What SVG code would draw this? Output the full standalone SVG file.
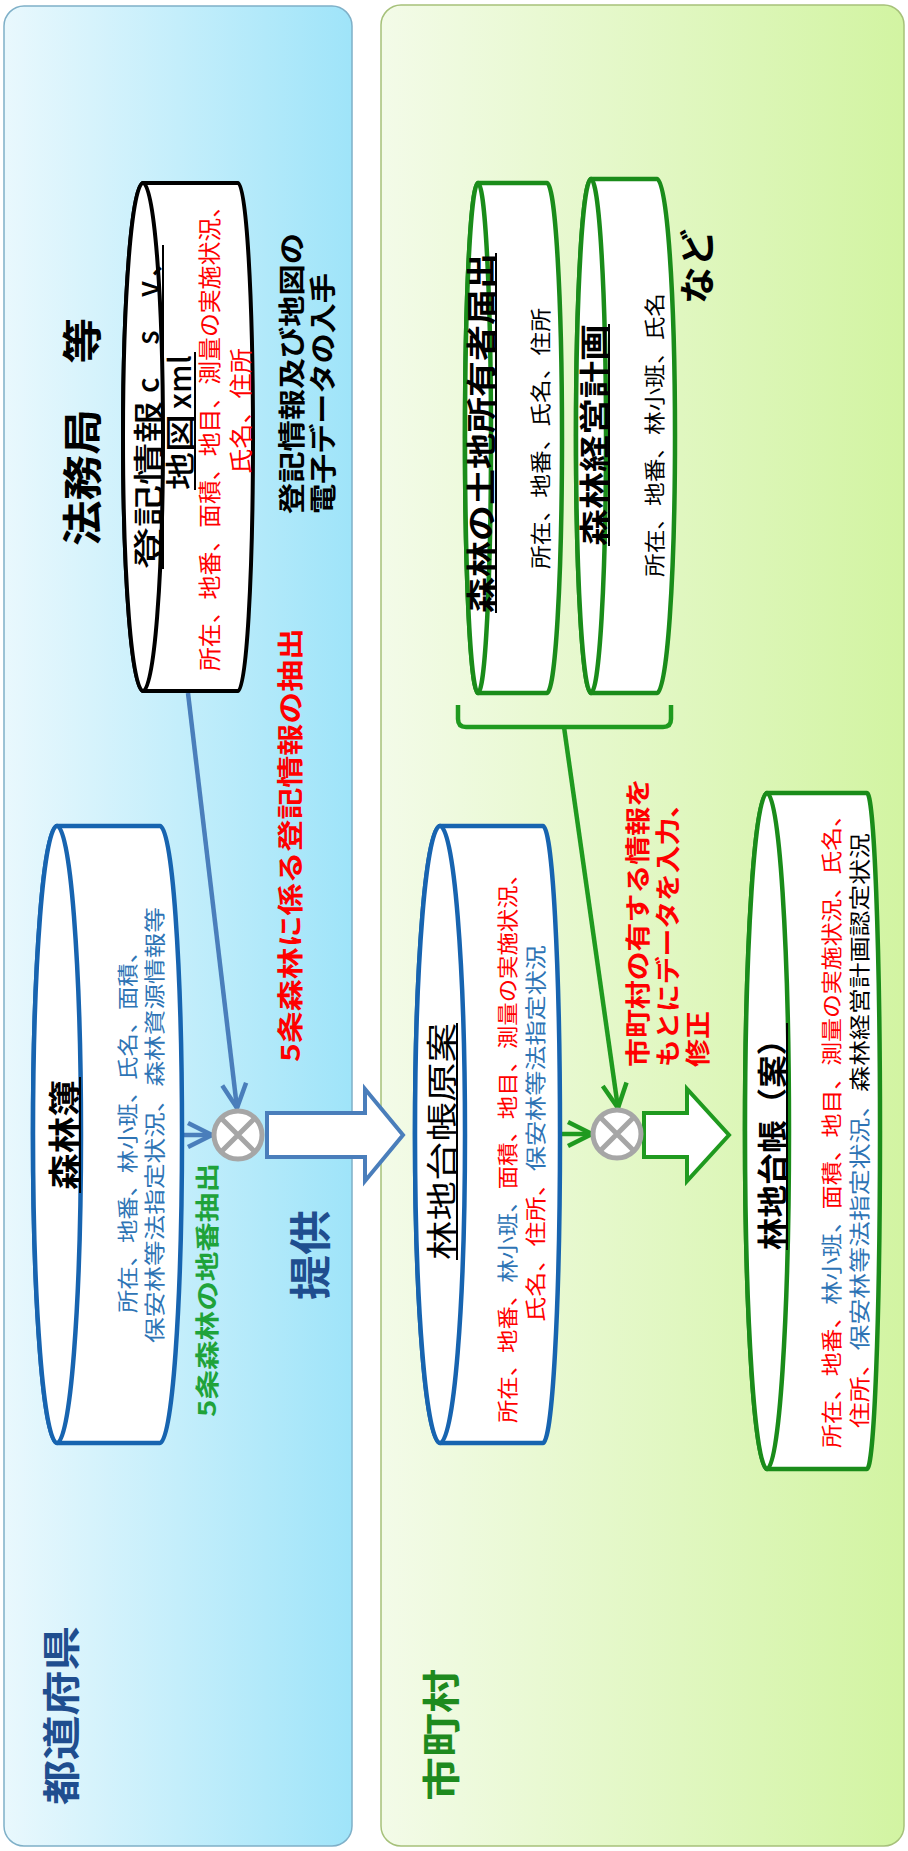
<svg xmlns="http://www.w3.org/2000/svg" width="908" height="1851" viewBox="0 0 908 1851">
<defs>
<linearGradient id="gBlue" x1="0" y1="0" x2="0" y2="1"><stop offset="0" stop-color="#e9f8fd"/><stop offset="1" stop-color="#9fe4f9"/></linearGradient>
<linearGradient id="gGreen" x1="0" y1="0" x2="0" y2="1"><stop offset="0" stop-color="#f3fbe8"/><stop offset="1" stop-color="#d2f4a2"/></linearGradient>
<marker id="arB" markerUnits="userSpaceOnUse" markerWidth="34" markerHeight="34" viewBox="0 0 34 34" refX="30" refY="17" orient="auto"><path d="M6 5 L30 17 L6 29" fill="none" stroke="#4a7ebb" stroke-width="4.5"/></marker>
<marker id="arG" markerUnits="userSpaceOnUse" markerWidth="34" markerHeight="34" viewBox="0 0 34 34" refX="30" refY="17" orient="auto"><path d="M6 5 L30 17 L6 29" fill="none" stroke="#1f9a1f" stroke-width="4.5"/></marker>
</defs>
<style>
text{font-family:"Noto Sans CJK JP","Noto Sans",sans-serif;}
.b{font-weight:bold;}
.m{font-weight:500;}
.red{fill:#ff0000;}
.blu{fill:#2e74b5;}
.blk{fill:#000;}
.cylB{fill:#fff;stroke:#1764b0;stroke-width:4.5;}
.cylG{fill:#fff;stroke:#1a8c1a;stroke-width:4.5;}
.cylK{fill:#fff;stroke:#000;stroke-width:4;}
.ul{stroke:#000;stroke-width:2;}
.xo{fill:#fff;stroke:#a6a6a6;stroke-width:5;}
</style>
<g transform="translate(0,1851) rotate(-90)">
<g id="panel-prefecture">
<rect x="5" y="4" width="1840" height="348" rx="20" fill="url(#gBlue)" stroke="#7fb0c8" stroke-width="1.5"/>
<text class="b" x="46" y="75" font-size="38" fill="#1f4e8f" textLength="179" lengthAdjust="spacingAndGlyphs">都道府県</text>
</g>
<g id="panel-municipality">
<rect x="5" y="381" width="1841" height="523" rx="20" fill="url(#gGreen)" stroke="#a6c17a" stroke-width="1.5"/>
<text class="b" x="50" y="455" font-size="38" fill="#1e8a1e" textLength="132" lengthAdjust="spacingAndGlyphs">市町村</text>
</g>

<g id="connectors">
<path d="M1158 188 L743 237" fill="none" stroke="#4a7ebb" stroke-width="4.5" marker-end="url(#arB)"/>
<path d="M716 182 L716 212" fill="none" stroke="#4a7ebb" stroke-width="4.5" marker-end="url(#arB)"/>
<path d="M694 267 L738 267 L738 365 L762 365 L716 403 L670 365 L694 365 Z" fill="#fff" stroke="#4a7ebb" stroke-width="4"/>
<path d="M1146 458 L1132 458 Q1124 458 1124 466 L1124 663 Q1124 671 1132 671 L1146 671" fill="none" stroke="#1f9a1f" stroke-width="4.5"/>
<path d="M1124 564 L743 618" fill="none" stroke="#1f9a1f" stroke-width="4.5" marker-end="url(#arG)"/>
<path d="M717 561 L717 592" fill="none" stroke="#1f9a1f" stroke-width="4.5" marker-end="url(#arG)"/>
<path d="M694 644 L738 644 L738 687 L762 687 L716 729 L670 687 L694 687 Z" fill="#fff" stroke="#1f9a1f" stroke-width="4"/>
</g>

<g id="node-houmukyoku">
<text class="b blk" x="1305" y="97" font-size="40" textLength="228" lengthAdjust="spacingAndGlyphs">法務局　等</text>
<path class="cylK" d="M1160 143 L1160 238 A254 15 0 0 0 1668 238 L1668 143 A254 20 0 0 0 1160 143 Z"/>
<ellipse class="cylK" cx="1414" cy="143" rx="254" ry="20"/>
<text class="m blk" y="159" font-size="30"><tspan x="1282" textLength="168" lengthAdjust="spacingAndGlyphs">登記情報</tspan><tspan x="1458" textLength="112">csv</tspan><tspan x="1574">、</tspan></text>
<line class="ul" x1="1282" y1="163" x2="1606" y2="163"/>
<text class="m blk" y="191" font-size="30"><tspan x="1361" textLength="76" lengthAdjust="spacingAndGlyphs">地図</tspan><tspan x="1442" textLength="54">xml</tspan></text>
<line class="ul" x1="1361" y1="195" x2="1499" y2="195"/>
<text class="red" x="1180" y="218" font-size="23" textLength="477" lengthAdjust="spacingAndGlyphs">所在、地番、面積、地目、測量の実施状況、</text>
<text class="red" x="1377" y="249" font-size="23" textLength="126" lengthAdjust="spacingAndGlyphs">氏名、住所</text>
<text class="b blk" x="1337" y="302" font-size="27" textLength="281" lengthAdjust="spacingAndGlyphs">登記情報及び地図の</text>
<text class="b blk" x="1337" y="333" font-size="27" textLength="241" lengthAdjust="spacingAndGlyphs">電子データの入手</text>
</g>

<g id="node-shinrinbo">
<path class="cylB" d="M408 57 L408 160 A308.5 22 0 0 0 1025 160 L1025 57 A308.5 24 0 0 0 408 57 Z"/>
<ellipse class="cylB" cx="716.5" cy="57" rx="308.5" ry="24"/>
<text class="b blk" x="661" y="76" font-size="32" textLength="110" lengthAdjust="spacingAndGlyphs">森林簿</text>
<line class="ul" x1="658" y1="80" x2="774" y2="80"/>
<text class="blu" x="538" y="135" font-size="21" textLength="373" lengthAdjust="spacingAndGlyphs">所在、地番、林小班、氏名、面積、</text>
<text class="blu" x="508" y="162" font-size="21" textLength="436" lengthAdjust="spacingAndGlyphs">保安林等法指定状況、森林資源情報等</text>
</g>

<g id="label-extract">
<text class="b" x="434" y="216" font-size="24" fill="#1fa33a" textLength="254" lengthAdjust="spacingAndGlyphs">5条森林の地番抽出</text>
<text class="b red" x="789" y="300" font-size="26" textLength="434" lengthAdjust="spacingAndGlyphs">5条森林に係る登記情報の抽出</text>
<text class="b" x="551" y="326" font-size="42" fill="#1f4e8f" textLength="90" lengthAdjust="spacingAndGlyphs">提供</text>
</g>

<g id="junction-prefecture">
<circle class="xo" cx="716" cy="238" r="24"/>
<path d="M699 221 L733 255 M733 221 L699 255" stroke="#a6a6a6" stroke-width="5"/>
</g>

<g id="node-genan">
<path class="cylB" d="M408 440 L408 543 A308.5 17 0 0 0 1025 543 L1025 440 A308.5 25 0 0 0 408 440 Z"/>
<ellipse class="cylB" cx="716.5" cy="440" rx="308.5" ry="25"/>
<text class="blk" x="591" y="453" font-size="31" textLength="237" lengthAdjust="spacingAndGlyphs">林地台帳原案</text>
<line class="ul" x1="591" y1="457" x2="828" y2="457"/>
<text x="428" y="515" font-size="21" textLength="561" lengthAdjust="spacingAndGlyphs"><tspan class="red">所在、地番、</tspan><tspan class="blu">林小班、</tspan><tspan class="red">面積、地目、測量の実施状況、</tspan></text>
<text x="529" y="543" font-size="21" textLength="377" lengthAdjust="spacingAndGlyphs"><tspan class="red">氏名、住所、</tspan><tspan class="blu">保安林等法指定状況</tspan></text>
</g>

<g id="node-todokede">
<path class="cylG" d="M1158 478 L1158 547 A255 15 0 0 0 1668 547 L1668 478 A255 13 0 0 0 1158 478 Z"/>
<ellipse class="cylG" cx="1413" cy="478" rx="255" ry="13"/>
<text class="b blk" x="1238" y="492" font-size="30" textLength="360" lengthAdjust="spacingAndGlyphs">森林の土地所有者届出</text>
<line class="ul" x1="1238" y1="496" x2="1598" y2="496"/>
<text class="blk" x="1282" y="548" font-size="21" textLength="261" lengthAdjust="spacingAndGlyphs">所在、地番、氏名、住所</text>
</g>

<g id="node-keikaku">
<path class="cylG" d="M1158 591 L1158 657 A257 18 0 0 0 1672 657 L1672 591 A257 15 0 0 0 1158 591 Z"/>
<ellipse class="cylG" cx="1415" cy="591" rx="257" ry="15"/>
<text class="b blk" x="1305" y="605" font-size="30" textLength="222" lengthAdjust="spacingAndGlyphs">森林経営計画</text>
<line class="ul" x1="1305" y1="609" x2="1527" y2="609"/>
<text class="blk" x="1274" y="662" font-size="21" textLength="284" lengthAdjust="spacingAndGlyphs">所在、地番、林小班、氏名</text>
</g>

<g id="label-nado">
<text class="b blk" x="1547" y="711" font-size="36" textLength="75" lengthAdjust="spacingAndGlyphs">など</text>
</g>

<g id="label-input">
<text class="b red" x="784" y="647" font-size="25" textLength="289" lengthAdjust="spacingAndGlyphs">市町村の有する情報を</text>
<text class="b red" x="784" y="677" font-size="25" textLength="277" lengthAdjust="spacingAndGlyphs">もとにデータを入力、</text>
<text class="b red" x="784" y="707" font-size="25" textLength="56" lengthAdjust="spacingAndGlyphs">修正</text>
</g>

<g id="junction-municipality">
<circle class="xo" cx="717" cy="617" r="24"/>
<path d="M700 600 L734 634 M734 600 L700 634" stroke="#a6a6a6" stroke-width="5"/>
</g>

<g id="node-rinchi-daicho">
<path class="cylG" d="M382 767 L382 867 A338 13 0 0 0 1058 867 L1058 767 A338 22 0 0 0 382 767 Z"/>
<ellipse class="cylG" cx="720" cy="767" rx="338" ry="22"/>
<text class="b blk" x="601" y="783" font-size="30" textLength="227" lengthAdjust="spacingAndGlyphs">林地台帳（案）</text>
<line class="ul" x1="601" y1="787" x2="828" y2="787"/>
<text x="403" y="839" font-size="21" textLength="645" lengthAdjust="spacingAndGlyphs"><tspan class="red">所在、地番、</tspan><tspan class="blu">林小班、</tspan><tspan class="red">面積、地目、測量の実施状況、氏名、</tspan></text>
<text x="423" y="867" font-size="21" textLength="595" lengthAdjust="spacingAndGlyphs"><tspan class="red">住所、</tspan><tspan class="blu">保安林等法指定状況、</tspan><tspan class="blk">森林経営計画認定状況</tspan></text>
</g>
</g>
</svg>
